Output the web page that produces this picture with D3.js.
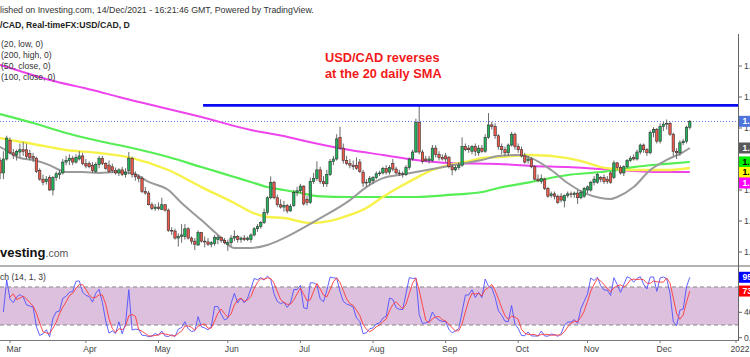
<!DOCTYPE html>
<html><head><meta charset="utf-8">
<script src="https://cdn.jsdelivr.net/npm/d3@7"></script>
<style>
body{margin:0;background:#fff;overflow:hidden}
svg{display:block}
</style>
</head><body>
<svg id="c" width="750" height="357"></svg>
<script>
// ---------------- DATA ----------------
// Daily USD/CAD candles [open, high, low, close], weekdays from 2021-02-08 to 2021-12-14
const firstDate = "2021-02-08";
const candles = [
// Feb 8 - Feb 26
[1.2780,1.2790,1.2730,1.2750],[1.2750,1.2760,1.2690,1.2705],[1.2705,1.2720,1.2660,1.2680],[1.2680,1.2720,1.2670,1.2700],[1.2700,1.2720,1.2680,1.2700],
[1.2700,1.2710,1.2660,1.2680],[1.2680,1.2720,1.2660,1.2700],[1.2700,1.2730,1.2680,1.2710],[1.2710,1.2730,1.2660,1.2680],[1.2680,1.2690,1.2610,1.2630],
[1.2630,1.2640,1.2580,1.2600],[1.2600,1.2640,1.2560,1.2590],[1.2590,1.2610,1.2470,1.2510],[1.2510,1.2650,1.2470,1.2600],[1.2600,1.2750,1.2590,1.2735],
// Mar
[1.2720,1.2740,1.2630,1.2640],[1.2640,1.2665,1.2600,1.2625],[1.2625,1.2660,1.2590,1.2650],[1.2645,1.2700,1.2610,1.2660],[1.2660,1.2710,1.2620,1.2650],
[1.2660,1.2700,1.2600,1.2615],[1.2635,1.2660,1.2590,1.2610],[1.2615,1.2640,1.2580,1.2605],[1.2605,1.2615,1.2510,1.2520],[1.2525,1.2540,1.2460,1.2470],
[1.2470,1.2500,1.2430,1.2450],[1.2455,1.2490,1.2435,1.2470],[1.2480,1.2495,1.2395,1.2400],[1.2400,1.2490,1.2365,1.2480],[1.2480,1.2520,1.2460,1.2505],
[1.2500,1.2530,1.2470,1.2510],[1.2510,1.2600,1.2500,1.2580],[1.2580,1.2620,1.2560,1.2590],[1.2590,1.2630,1.2560,1.2605],[1.2605,1.2620,1.2560,1.2580],
[1.2580,1.2630,1.2570,1.2610],[1.2600,1.2650,1.2590,1.2620],[1.2620,1.2640,1.2560,1.2570],
// Apr
[1.2570,1.2600,1.2540,1.2555],[1.2570,1.2585,1.2540,1.2550],[1.2560,1.2580,1.2510,1.2525],[1.2520,1.2580,1.2510,1.2565],[1.2565,1.2620,1.2540,1.2605],
[1.2605,1.2620,1.2560,1.2570],[1.2570,1.2580,1.2530,1.2540],[1.2560,1.2590,1.2510,1.2520],[1.2550,1.2570,1.2510,1.2525],[1.2525,1.2545,1.2500,1.2510],
[1.2510,1.2540,1.2490,1.2530],[1.2530,1.2550,1.2490,1.2500],[1.2500,1.2540,1.2480,1.2515],[1.2525,1.2645,1.2500,1.2605],[1.2605,1.2615,1.2480,1.2500],
[1.2500,1.2520,1.2460,1.2485],[1.2485,1.2500,1.2450,1.2475],[1.2475,1.2490,1.2380,1.2390],[1.2390,1.2420,1.2370,1.2380],[1.2380,1.2395,1.2300,1.2305],
[1.2305,1.2320,1.2270,1.2280],[1.2280,1.2310,1.2265,1.2290],
// May
[1.2290,1.2320,1.2270,1.2280],[1.2275,1.2350,1.2270,1.2305],[1.2305,1.2310,1.2260,1.2270],[1.2270,1.2280,1.2130,1.2140],[1.2140,1.2160,1.2110,1.2135],
[1.2135,1.2150,1.2080,1.2090],[1.2090,1.2120,1.2035,1.2100],[1.2100,1.2180,1.2060,1.2110],[1.2100,1.2180,1.2080,1.2150],[1.2150,1.2160,1.2080,1.2090],
[1.2090,1.2100,1.2050,1.2070],[1.2070,1.2090,1.2013,1.2050],[1.2045,1.2140,1.2040,1.2125],[1.2125,1.2130,1.2060,1.2070],[1.2070,1.2100,1.2030,1.2065],
[1.2065,1.2090,1.2040,1.2050],[1.2050,1.2070,1.2030,1.2060],[1.2055,1.2110,1.2040,1.2095],[1.2080,1.2110,1.2050,1.2095],[1.2095,1.2100,1.2060,1.2075],
[1.2075,1.2090,1.2050,1.2060],
// Jun
[1.2050,1.2080,1.2007,1.2060],[1.2060,1.2110,1.2040,1.2090],[1.2090,1.2140,1.2070,1.2100],[1.2100,1.2110,1.2060,1.2080],[1.2080,1.2100,1.2060,1.2090],
[1.2090,1.2110,1.2070,1.2080],[1.2080,1.2100,1.2070,1.2090],[1.2080,1.2120,1.2060,1.2110],[1.2110,1.2160,1.2100,1.2150],[1.2150,1.2180,1.2130,1.2165],
[1.2165,1.2200,1.2150,1.2190],[1.2190,1.2280,1.2180,1.2255],[1.2255,1.2360,1.2240,1.2350],[1.2350,1.2488,1.2340,1.2450],[1.2450,1.2460,1.2340,1.2350],
[1.2350,1.2370,1.2290,1.2305],[1.2305,1.2340,1.2280,1.2290],[1.2290,1.2330,1.2260,1.2300],[1.2300,1.2310,1.2250,1.2265],[1.2265,1.2310,1.2260,1.2295],
[1.2300,1.2400,1.2290,1.2385],[1.2385,1.2420,1.2360,1.2395],
// Jul
[1.2395,1.2440,1.2380,1.2425],[1.2425,1.2430,1.2300,1.2310],[1.2340,1.2360,1.2300,1.2320],[1.2320,1.2480,1.2310,1.2455],[1.2455,1.2510,1.2440,1.2475],
[1.2475,1.2585,1.2460,1.2530],[1.2530,1.2550,1.2440,1.2455],[1.2455,1.2490,1.2420,1.2440],[1.2440,1.2530,1.2420,1.2500],[1.2500,1.2600,1.2490,1.2585],
[1.2585,1.2620,1.2560,1.2600],[1.2600,1.2760,1.2590,1.2730],[1.2740,1.2808,1.2660,1.2670],[1.2670,1.2700,1.2570,1.2590],[1.2590,1.2620,1.2560,1.2570],
[1.2570,1.2600,1.2540,1.2560],[1.2560,1.2590,1.2530,1.2550],[1.2560,1.2610,1.2530,1.2540],[1.2580,1.2600,1.2510,1.2520],[1.2515,1.2530,1.2420,1.2445],
[1.2445,1.2470,1.2420,1.2450],[1.2450,1.2490,1.2430,1.2475],
// Aug
[1.2460,1.2490,1.2440,1.2480],[1.2480,1.2520,1.2470,1.2505],[1.2505,1.2525,1.2490,1.2510],[1.2510,1.2550,1.2500,1.2540],[1.2540,1.2560,1.2500,1.2515],
[1.2515,1.2560,1.2500,1.2545],[1.2570,1.2600,1.2520,1.2535],[1.2535,1.2550,1.2500,1.2510],[1.2510,1.2530,1.2490,1.2505],[1.2505,1.2520,1.2480,1.2500],
[1.2500,1.2560,1.2490,1.2545],[1.2545,1.2610,1.2530,1.2600],[1.2600,1.2660,1.2590,1.2645],[1.2645,1.2860,1.2640,1.2835],[1.2835,1.2949,1.2630,1.2645],
[1.2645,1.2660,1.2570,1.2585],[1.2600,1.2620,1.2580,1.2590],[1.2590,1.2620,1.2570,1.2600],[1.2590,1.2690,1.2580,1.2670],[1.2670,1.2690,1.2610,1.2630],
[1.2630,1.2650,1.2590,1.2610],[1.2610,1.2630,1.2590,1.2600],
// Sep
[1.2620,1.2640,1.2580,1.2600],[1.2610,1.2620,1.2540,1.2550],[1.2550,1.2570,1.2495,1.2530],[1.2530,1.2560,1.2520,1.2545],[1.2545,1.2580,1.2530,1.2560],
[1.2560,1.2740,1.2550,1.2680],[1.2680,1.2700,1.2650,1.2660],[1.2670,1.2690,1.2640,1.2660],[1.2650,1.2690,1.2630,1.2680],[1.2680,1.2700,1.2620,1.2650],
[1.2640,1.2690,1.2620,1.2670],[1.2670,1.2690,1.2640,1.2650],[1.2650,1.2760,1.2640,1.2740],[1.2740,1.2896,1.2730,1.2820],[1.2820,1.2840,1.2790,1.2810],
[1.2810,1.2830,1.2730,1.2750],[1.2750,1.2760,1.2660,1.2680],[1.2680,1.2700,1.2630,1.2660],[1.2660,1.2680,1.2620,1.2640],[1.2640,1.2700,1.2620,1.2690],
[1.2690,1.2775,1.2680,1.2760],[1.2760,1.2770,1.2660,1.2680],
// Oct
[1.2680,1.2700,1.2640,1.2660],[1.2660,1.2680,1.2610,1.2620],[1.2620,1.2640,1.2570,1.2580],[1.2590,1.2620,1.2570,1.2600],[1.2600,1.2610,1.2540,1.2550],
[1.2550,1.2560,1.2460,1.2470],[1.2470,1.2500,1.2450,1.2460],[1.2455,1.2500,1.2440,1.2475],[1.2470,1.2480,1.2400,1.2410],[1.2410,1.2420,1.2350,1.2360],
[1.2365,1.2390,1.2350,1.2375],[1.2375,1.2390,1.2340,1.2360],[1.2360,1.2370,1.2310,1.2320],[1.2360,1.2380,1.2320,1.2335],[1.2330,1.2370,1.2288,1.2365],
[1.2365,1.2390,1.2350,1.2375],[1.2375,1.2390,1.2350,1.2370],[1.2370,1.2390,1.2350,1.2380],[1.2380,1.2400,1.2310,1.2350],[1.2350,1.2400,1.2340,1.2385],
[1.2360,1.2420,1.2350,1.2410],
// Nov
[1.2400,1.2430,1.2380,1.2420],[1.2400,1.2460,1.2390,1.2450],[1.2450,1.2490,1.2430,1.2470],[1.2450,1.2510,1.2440,1.2500],[1.2480,1.2490,1.2450,1.2470],
[1.2480,1.2500,1.2440,1.2455],[1.2470,1.2490,1.2440,1.2455],[1.2510,1.2520,1.2440,1.2450],[1.2480,1.2590,1.2470,1.2575],[1.2575,1.2580,1.2530,1.2545],
[1.2545,1.2560,1.2500,1.2510],[1.2510,1.2560,1.2490,1.2550],[1.2550,1.2600,1.2540,1.2590],[1.2590,1.2620,1.2580,1.2605],[1.2610,1.2630,1.2590,1.2600],
[1.2600,1.2660,1.2590,1.2645],[1.2645,1.2700,1.2630,1.2690],[1.2690,1.2700,1.2640,1.2660],[1.2660,1.2670,1.2620,1.2640],[1.2640,1.2785,1.2630,1.2770],
[1.2770,1.2805,1.2740,1.2790],[1.2790,1.2800,1.2700,1.2715],
// Dec
[1.2715,1.2830,1.2700,1.2810],[1.2810,1.2840,1.2780,1.2825],[1.2825,1.2855,1.2790,1.2830],[1.2830,1.2840,1.2750,1.2760],[1.2760,1.2770,1.2620,1.2650],
[1.2650,1.2670,1.2600,1.2640],[1.2640,1.2720,1.2620,1.2705],[1.2705,1.2730,1.2690,1.2715],[1.2715,1.2815,1.2700,1.2805],[1.2805,1.2852,1.2790,1.2843]
];
const firstVisibleIdx = 15;   // index of 2021-03-01 in candles

// Moving averages: [bar offset from 2021-03-01, price]
const sma20Low = [[-4,1.2685],[-3,1.2677],[0,1.2639],[3,1.2606],[7,1.2594],[12,1.2561],[15,1.2529],[17,1.2516],[22,1.2516],[27,1.2510],[32,1.2516],[37,1.2510],[42,1.2452],[48,1.2400],[52,1.2316],[58,1.2206],[63,1.2110],[68,1.2026],[73,1.2026],[78,1.2045],[83,1.2090],[93,1.2206],[103,1.2335],[108,1.2419],[113,1.2477],[118,1.2497],[123,1.2516],[133,1.2555],[143,1.2594],[148,1.2619],[154,1.2626],[158,1.2606],[164,1.2529],[169,1.2445],[174,1.2381],[179,1.2348],[182,1.2342],[184,1.2355],[189,1.2419],[194,1.2529],[199,1.2594],[204,1.2645],[206,1.2671]];
const sma50Close = [[-4,1.2740],[-3,1.2735],[7,1.2697],[17,1.2658],[27,1.2639],[37,1.2606],[48,1.2529],[58,1.2419],[68,1.2316],[73,1.2258],[78,1.2226],[83,1.2219],[91,1.2187],[98,1.2206],[103,1.2239],[108,1.2284],[113,1.2355],[118,1.2419],[123,1.2477],[128,1.2529],[133,1.2561],[138,1.2581],[143,1.2606],[148,1.2613],[158,1.2626],[169,1.2606],[174,1.2581],[179,1.2548],[184,1.2535],[189,1.2529],[199,1.2529],[206,1.2542]];
const sma100Close = [[-4,1.2895],[-3,1.2890],[7,1.2832],[17,1.2768],[27,1.2716],[37,1.2671],[48,1.2613],[58,1.2548],[68,1.2484],[73,1.2452],[78,1.2419],[83,1.2400],[88,1.2381],[93,1.2361],[103,1.2355],[113,1.2355],[123,1.2355],[133,1.2368],[143,1.2387],[148,1.2413],[158,1.2452],[169,1.2497],[179,1.2516],[184,1.2529],[189,1.2548],[199,1.2568],[206,1.2581]];
const sma200High = [[-4,1.3212],[-3,1.3206],[12,1.3110],[25,1.3045],[33,1.3000],[58,1.2871],[73,1.2787],[83,1.2748],[88,1.2723],[103,1.2658],[113,1.2626],[123,1.2594],[133,1.2574],[148,1.2568],[158,1.2555],[169,1.2548],[179,1.2535],[189,1.2523],[199,1.2516],[206,1.2516]];

const resistanceLevel = 1.2946;
const resistanceFrom = 58.5;          // bar offset from 2021-03-01

const priceTicks = [1.20,1.22,1.24,1.26,1.28,1.30,1.32];
const stochTicks = [0,40,80];
const stochBand = [20,80];
const maLabels = ["MA (20, low, 0)","MA (200, high, 0)","MA (50, close, 0)","MA (100, close, 0)"];
const headerLine1 = "Published on Investing.com, 14/Dec/2021 - 16:21:46 GMT, Powered by TradingView.";
const headerLine2 = "USD/CAD, Real-timeFX:USD/CAD, D";
const noteLines = ["USD/CAD reverses","at the 20 daily SMA"];

// ---------------- CHART ----------------
const FONT = '"Liberation Sans", Arial, Helvetica, sans-serif';
const svg = d3.select("#c").style("font-family", FONT);

const AX = 738.5;            // right axis x
const x = d3.scaleLinear().domain([firstVisibleIdx, firstVisibleIdx + 206]).range([10, 689.8]);
const y = d3.scaleLinear().domain([1.20, 1.30]).range([252, 97]);
const ys = d3.scaleLinear().domain([0, 100]).range([337.7, 274.3]);

// dates (weekdays)
const dates = [];
{ let d = new Date(firstDate + "T12:00:00"); while (dates.length < candles.length + 25) { if (d.getDay() % 6 !== 0) dates.push(new Date(d)); d.setDate(d.getDate() + 1); } }

function prefixWidth(full, suffix, size, weight) {
  const t = svg.append("text").style("font-size", size + "px").style("font-weight", weight || "normal");
  t.text(full); const a = t.node().getComputedTextLength();
  t.text(suffix); const b = t.node().getComputedTextLength();
  t.remove(); return a - b;
}

const defs = svg.append("defs");
defs.append("clipPath").attr("id", "mainClip").append("rect").attr("x", 0).attr("y", 33).attr("width", AX).attr("height", 232);
defs.append("clipPath").attr("id", "stClip").append("rect").attr("x", 0).attr("y", 267).attr("width", AX).attr("height", 73);

// header
{
  const s1 = headerLine1.slice(3);
  svg.append("text").attr("x", 0 - prefixWidth(headerLine1, s1, 8.8)).attr("y", 12.7)
    .style("font-size", "8.8px").attr("fill", "#333").text(headerLine1);
  const s2 = headerLine2.slice(3);
  svg.append("text").attr("x", 0 - prefixWidth(headerLine2, s2, 8.7, "bold")).attr("y", 27.5)
    .style("font-size", "8.7px").style("font-weight", "bold").attr("fill", "#222").text(headerLine2);
}

const main = svg.append("g").attr("clip-path", "url(#mainClip)");

// last price dotted line
const last = candles[candles.length - 1];
main.append("line").attr("x1", 0).attr("x2", AX).attr("y1", Math.round(y(last[3])) + 0.5).attr("y2", Math.round(y(last[3])) + 0.5)
  .attr("stroke", "#5a78e0").attr("stroke-width", 1).attr("stroke-dasharray", "1,2");

// moving averages
const maLine = d3.line().x(d => x(d[0] + firstVisibleIdx)).y(d => y(d[1])).curve(d3.curveMonotoneX);
const maDefs = [
  [sma200High, "#ee44ee", 2],
  [sma100Close, "#55ee55", 2.2],
  [sma50Close, "#f7f24a", 2.4],
  [sma20Low, "#9a9a9a", 2]
];
maDefs.forEach(([data, col, w]) => {
  main.append("path").attr("d", maLine(data)).attr("fill", "none").attr("stroke", col).attr("stroke-width", w);
});

// candles
const bw = 2.4;
const cg = main.append("g");
candles.forEach((c, j) => {
  const cx = x(j);
  if (cx < -5 || cx > AX + 5) return;
  const [o, h, l, cl] = c;
  const up = cl >= o;
  cg.append("line").attr("x1", cx).attr("x2", cx).attr("y1", y(h)).attr("y2", y(l))
    .attr("stroke", "#5a5a5a").attr("stroke-width", 0.9);
  const top = y(Math.max(o, cl)), bot = y(Math.min(o, cl));
  cg.append("rect").attr("x", cx - bw / 2).attr("y", top).attr("width", bw).attr("height", Math.max(0.8, bot - top))
    .attr("fill", up ? "#1fb45a" : "#f0584a").attr("stroke", "#333").attr("stroke-width", 0.6);
});

// resistance line
main.append("line").attr("x1", x(resistanceFrom + firstVisibleIdx)).attr("x2", AX)
  .attr("y1", y(resistanceLevel)).attr("y2", y(resistanceLevel)).attr("stroke", "#0a0af0").attr("stroke-width", 2.6);

// annotation
noteLines.forEach((t, i) => {
  svg.append("text").attr("x", 325).attr("y", 62 + i * 15.5).style("font-size", "12.8px").style("font-weight", "bold")
    .attr("fill", "#f21a1a").text(t);
});

// MA legend labels
maLabels.forEach((t, i) => {
  const suf = t.slice(3);
  svg.append("text").attr("x", 1 - prefixWidth(t, suf, 8.6)).attr("y", 46.5 + i * 11).style("font-size", "8.6px").attr("fill", "#333").text(t);
});

// Investing.com logo
{
  const pw = prefixWidth("Investing", "vesting", 13, "bold");
  const t = svg.append("text").attr("x", -pw).attr("y", 256.5);
  t.append("tspan").style("font-size", "13px").style("font-weight", "bold").attr("fill", "#111").text("Investing");
  t.append("tspan").style("font-size", "10.5px").attr("fill", "#555").text(".com");
}

// pane separator
svg.append("line").attr("x1", 0).attr("x2", 750).attr("y1", 266).attr("y2", 266).attr("stroke", "#999").attr("stroke-width", 1.6);

// ---------------- STOCHASTIC ----------------
const K = candles.map((c, j) => {
  if (j < 13) return null;
  const w = candles.slice(j - 13, j + 1);
  const hh = d3.max(w, d => d[1]), ll = d3.min(w, d => d[2]);
  return 100 * (c[3] - ll) / (hh - ll);
});
const D = K.map((k, j) => (j < 15 || K[j - 2] == null) ? null : (K[j] + K[j - 1] + K[j - 2]) / 3);

const st = svg.append("g").attr("clip-path", "url(#stClip)");
st.append("rect").attr("x", 0).attr("width", AX).attr("y", ys(stochBand[1])).attr("height", ys(stochBand[0]) - ys(stochBand[1]))
  .attr("fill", "#dcc0dd");
stochBand.forEach(v => {
  st.append("line").attr("x1", 0).attr("x2", AX).attr("y1", ys(v)).attr("y2", ys(v))
    .attr("stroke", "#888").attr("stroke-width", 1).attr("stroke-dasharray", "4,3");
});
const stLine = d3.line().defined(d => d[1] != null).x(d => x(d[0])).y(d => ys(d[1]));
st.append("path").attr("d", stLine(K.map((v, j) => [j, v]))).attr("fill", "none").attr("stroke", "#5050ff").attr("stroke-width", 0.9);
st.append("path").attr("d", stLine(D.map((v, j) => [j, v]))).attr("fill", "none").attr("stroke", "#ff3838").attr("stroke-width", 0.9);

{
  const full = "Stoch (14, 1, 3)";
  svg.append("text").attr("x", 0 - prefixWidth(full, full.slice(3), 8.6)).attr("y", 279.5).style("font-size", "8.6px").attr("fill", "#333").text(full);
}

// bottom axis
svg.append("line").attr("x1", 0).attr("x2", AX).attr("y1", 340.5).attr("y2", 340.5).attr("stroke", "#777").attr("stroke-width", 1);
const monthFmt = d3.timeFormat("%b");
for (let j = 1; j < dates.length; j++) {
  if (dates[j].getMonth() !== dates[j - 1].getMonth()) {
    const xx = x(j);
    if (xx < 0 || xx > 750) continue;
    const lab = dates[j].getMonth() === 0 ? String(dates[j].getFullYear()) : monthFmt(dates[j]);
    svg.append("line").attr("x1", xx).attr("x2", xx).attr("y1", 340.5).attr("y2", 343).attr("stroke", "#777");
    svg.append("text").attr("x", xx + 4).attr("y", 352).attr("text-anchor", "middle").style("font-size", "8.6px").attr("fill", "#444").text(lab);
  }
}

// right-side value boxes (computed first so hidden tick labels can be skipped)
const boxes = [];
boxes.push({ yc: y(last[3]), c: "#4f73dc", t: "#fff", s: d3.format(".4f")(last[3]) });
{
  const lastOf = a => a[a.length - 1][1];
  const items = [
    [lastOf(sma20Low), "#5a5a5a", "#fff"],
    [lastOf(sma100Close), "#00ee00", "#000"],
    [lastOf(sma50Close), "#ffff00", "#000"],
    [lastOf(sma200High), "#ff00ff", "#fff"]
  ].map(d => ({ v: d[0], c: d[1], t: d[2], yc: y(d[0]) })).sort((a, b) => a.yc - b.yc);
  for (let i = 1; i < items.length; i++) items[i].yc = Math.max(items[i].yc, items[i - 1].yc + 10.5);
  items.forEach(it => boxes.push({ yc: it.yc, c: it.c, t: it.t, s: d3.format(".4f")(it.v) }));
}
const lastK = K[K.length - 1], lastD = D[D.length - 1];
const kY = ys(lastK);
boxes.push({ yc: kY, c: "#0000ff", t: "#fff", s: d3.format(".2f")(lastK) });
boxes.push({ yc: Math.max(ys(lastD), kY + 11), c: "#ff0000", t: "#fff", s: d3.format(".2f")(lastD) });
const hidden = yy => boxes.some(b => Math.abs(b.yc - yy) < 4.5);

// right axis
svg.append("line").attr("x1", AX).attr("x2", AX).attr("y1", 34).attr("y2", 341).attr("stroke", "#666").attr("stroke-width", 1);
priceTicks.forEach(v => {
  const yy = y(v);
  svg.append("line").attr("x1", AX).attr("x2", AX + 3.5).attr("y1", yy).attr("y2", yy).attr("stroke", "#666");
  if (!hidden(yy)) svg.append("text").attr("x", AX + 5.5).attr("y", yy + 3).style("font-size", "8.6px").attr("fill", "#444").text(d3.format(".4f")(v));
});
stochTicks.forEach(v => {
  const yy = ys(v);
  svg.append("line").attr("x1", AX).attr("x2", AX + 3.5).attr("y1", yy).attr("y2", yy).attr("stroke", "#666");
  if (!hidden(yy)) svg.append("text").attr("x", AX + 5.5).attr("y", yy + 3).style("font-size", "8.6px").attr("fill", "#444").text(d3.format(".2f")(v));
});
boxes.forEach(b => {
  svg.append("rect").attr("x", AX + 0.5).attr("y", b.yc - 5.5).attr("width", 20).attr("height", 11).attr("fill", b.c);
  svg.append("text").attr("x", AX + 4).attr("y", b.yc + 3).style("font-size", "8.6px").style("font-weight", "bold").attr("fill", b.t).text(b.s);
});
</script>
</body></html>
